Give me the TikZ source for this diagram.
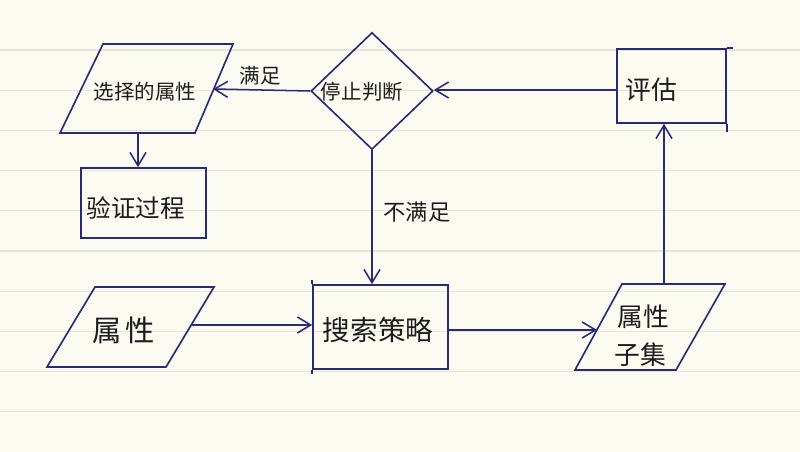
\documentclass[tikz,border=0pt]{standalone}
\usepackage{fontspec}
\newfontfamily\cjk{Noto Sans CJK SC}
\usetikzlibrary{shapes.geometric,arrows.meta,calc}
\definecolor{paper}{HTML}{FCFBF2}
\definecolor{rule}{HTML}{E6E4D8}
\definecolor{ink}{HTML}{2A2A78}
\definecolor{pen}{HTML}{1C1C1C}
\tikzset{
  shapeline/.style={draw=ink, line width=1.4pt},
  box/.style={shapeline, rectangle, inner sep=0pt},
  conn/.style={draw=ink, line width=1.3pt, -{Straight Barb[length=4mm,width=4.8mm,line width=1.3pt]}},
  lbl/.style={text=pen, inner sep=0pt, font=\cjk},
}
\begin{document}
\begin{tikzpicture}[x=0.03cm, y=-0.03cm]
\useasboundingbox (0,0) rectangle (800,452);
\fill[paper] (0,0) rectangle (800,452);
\foreach \k in {0,...,9}{
  \draw[rule, line width=1.1pt] (0,{50+40.2*\k}) -- (800,{50+40.2*\k});
}
% shapes
\draw[shapeline] (103,44) -- (233,44) -- (195,133) -- (60,133) -- cycle;
\coordinate (selR) at (213,89);
\coordinate (selB) at (138,133);
\node[box, minimum width=3.75cm, minimum height=2.1cm] (verify) at (143.5,203) {};
\node[shapeline, diamond, inner sep=0pt, minimum width=3.66cm, minimum height=3.51cm] (stop) at (372,91) {};
\node[box, minimum width=3.27cm, minimum height=2.22cm] (eval) at (671.5,86) {};
\draw[shapeline] (eval.north east) -- ++(6,0);
\draw[shapeline] (eval.south east) -- ++(0,8);
\draw[shapeline] (95,287) -- (214,287) -- (166,367) -- (47,367) -- cycle;
\coordinate (attrR) at (191,325);
\node[box, minimum width=4.05cm, minimum height=2.52cm] (search) at (380.5,327) {};
\draw[shapeline] (search.north west) -- ++(0,-4);
\draw[shapeline] (search.south west) -- ++(0,4);
\draw[shapeline] (622,284) -- (725,284) -- (676,370) -- (575,370) -- cycle;
\coordinate (subL) at (597,330);
\coordinate (subT) at (664,284);
% connectors
\draw[conn] (stop.west) -- (selR);
\draw[conn] (selB) -- (selB |- verify.north);
\draw[conn] (eval.west |- 0,90) -- (stop.east |- 0,90);
\draw[conn] (subT) -- (subT |- eval.south);
\draw[conn] (stop.south) -- (stop.south |- search.north);
\draw[conn] (attrR) -- (attrR -| search.west);
\draw[conn] (search.east |- subL) -- (subL);
% texts
\node[lbl, font=\cjk\fontsize{17.5}{20}\selectfont] (tsel) at (145,92) {选择的属性};
\node[lbl, font=\cjk\fontsize{21}{24}\selectfont] (tver) at (136,208) {验证过程};
\node[lbl, font=\cjk\fontsize{17.5}{20}\selectfont] (tstop) at (362,92) {停止判断};
\node[lbl, font=\cjk\fontsize{17.5}{20}\selectfont] (tyes) at (260,76) {满足};
\node[lbl, font=\cjk\fontsize{19}{22}\selectfont] (tno) at (417,212) {不满足};
\node[lbl, font=\cjk\fontsize{25}{28}\selectfont] (tattr) at (124,330) {属\hspace{3pt}性};
\node[lbl, font=\cjk\fontsize{23.5}{26}\selectfont] (tsearch) at (378,330) {搜索策略};
\node[lbl, font=\cjk\fontsize{22}{25}\selectfont] (teval) at (651,90) {评估};
\node[lbl, font=\cjk\fontsize{22}{25}\selectfont] (tsub1) at (643,317) {属性};
\node[lbl, font=\cjk\fontsize{22}{25}\selectfont] (tsub2) at (640,355) {子集};
\end{tikzpicture}
\end{document}
